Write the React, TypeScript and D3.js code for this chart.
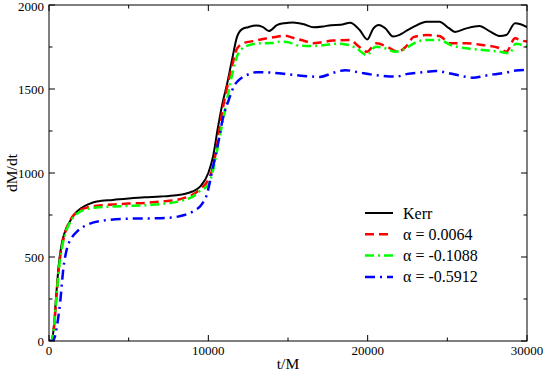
import React from "react";
import * as d3 from "d3";

const W = 545;
const H = 372;

const kerrT = [0,150,300,450,600,800,1000,1300,1600,2000,2500,3000,4000,5000,6000,7000,8000,8500,9000,9500,10000,10300,10600,10900,11200,11500,11800,12100,12500,13000,13400,13800,14300,14800,15300,16000,16600,17200,17700,18300,18900,19500,19980,20350,20700,21100,21600,22000,22450,22900,23700,24500,25100,25480,26200,27000,27700,28300,28700,29250,29600,30000];
const kerrV = [0,0,80,270,440,580,650,710,755,790,815,830,840,848,855,860,868,875,890,920,1000,1100,1270,1420,1540,1680,1810,1855,1868,1878,1870,1845,1880,1892,1896,1885,1867,1872,1880,1882,1895,1851,1795,1860,1881,1862,1812,1822,1847,1871,1901,1901,1862,1840,1861,1875,1841,1815,1821,1892,1885,1868];

const redT = [0,150,300,450,600,800,1000,1400,1800,2400,3000,4000,5000,6000,7000,8000,8500,9000,9500,10000,10300,10600,10900,11200,11500,11800,12200,12800,13600,14300,14800,15300,15900,16600,17200,17800,18900,19400,19950,20550,21200,21900,22400,22900,23700,24500,25200,26200,27200,28300,28700,29250,29600,30000];
const redV = [0,0,70,240,420,560,640,730,770,795,805,812,818,822,830,840,852,870,905,960,1040,1200,1380,1520,1640,1740,1772,1785,1800,1811,1818,1805,1790,1772,1780,1788,1792,1756,1722,1772,1752,1722,1752,1810,1821,1815,1772,1772,1762,1742,1722,1802,1790,1782];

const greenT = [0,150,300,450,600,800,1000,1400,1800,2400,3000,4000,5000,6000,7000,8000,8500,9000,9500,10000,10300,10700,11100,11500,11900,12500,13200,14000,14500,15100,15700,16600,17300,18200,18800,19300,19950,20500,21000,21700,22400,22900,23700,24500,25200,26200,27200,28300,28900,29300,29600,30000];
const greenV = [0,0,70,240,410,550,630,720,760,785,795,800,804,808,815,828,840,858,895,930,1018,1210,1400,1590,1715,1760,1772,1774,1782,1776,1758,1756,1762,1770,1762,1742,1702,1752,1745,1722,1742,1772,1792,1792,1762,1742,1732,1722,1712,1770,1765,1752];

const blueT = [0,200,350,500,700,900,1100,1400,1800,2400,3500,5000,6600,7700,8500,9100,9600,9900,10300,10600,10900,11300,11600,12000,12600,13000,14000,15000,16000,17000,17800,18600,19400,20300,21000,21800,22500,23300,24300,25200,26000,26600,27300,27900,28700,29300,30000];
const blueV = [0,0,20,90,230,430,540,610,655,692,718,728,730,735,750,775,815,870,1040,1170,1320,1440,1515,1560,1590,1600,1597,1588,1578,1572,1595,1612,1600,1585,1578,1574,1590,1598,1607,1592,1575,1567,1578,1587,1598,1610,1614];

const seriesNames = ["Kerr", "\u03b1 = 0.0064", "\u03b1 = -0.1088", "\u03b1 = -0.5912"];
const xMajor = [0, 10000, 20000, 30000];
const xMinor = [5000, 15000, 25000];
const yMajor = [0, 500, 1000, 1500, 2000];
const yMinor = [250, 750, 1250, 1750];

const series = [
  { name: seriesNames[0], t: kerrT, v: kerrV, color: "#000000", dash: "", width: 2 },
  { name: seriesNames[1], t: redT, v: redV, color: "#ff0000", dash: "9,5", width: 2.5 },
  { name: seriesNames[2], t: greenT, v: greenV, color: "#00ff00", dash: "9,4,2,4", width: 2.5 },
  { name: seriesNames[3], t: blueT, v: blueV, color: "#0000ff", dash: "10,5,2,5", width: 2.5 },
];

const FONT = "Tinos, 'Liberation Serif', 'Nimbus Roman', 'DejaVu Serif', serif";

export default function App() {
  const left = 49, right = 527, top = 5, bottom = 341;
  const x = d3.scaleLinear().domain([0, 30000]).range([left, right]);
  const y = d3.scaleLinear().domain([0, 2000]).range([bottom, top]);
  const line = d3
    .line<[number, number]>()
    .x((d) => x(d[0]))
    .y((d) => y(d[1]))
    .curve(d3.curveMonotoneX);
  const frameColor = "#000";
  const legendY0 = 213;
  const legendDy = 21.3;
  const ts = (size: number) => ({ fontFamily: FONT, fontSize: size + "px" });
  return (
    <svg width={W} height={H} style={{ position: "absolute", left: 0, top: 0 }}>
      <rect x={0} y={0} width={W} height={H} fill="#fff" />
      <defs>
        <clipPath id="plot">
          <rect x={left} y={top} width={right - left} height={bottom - top} />
        </clipPath>
      </defs>
      <g clipPath="url(#plot)">
        {series.map((s) => (
          <path
            key={s.name}
            d={line(s.t.map((t, i) => [t, s.v[i]] as [number, number])) || ""}
            fill="none"
            stroke={s.color}
            strokeWidth={s.width}
            strokeDasharray={s.dash || undefined}
            strokeLinejoin="round"
          />
        ))}
      </g>
      <rect x={left} y={top} width={right - left} height={bottom - top} fill="none" stroke={frameColor} strokeWidth={1} />
      {xMajor.map((t) => (
        <g key={"xM" + t}>
          <line x1={x(t)} x2={x(t)} y1={bottom} y2={bottom - 6} stroke={frameColor} />
          <line x1={x(t)} x2={x(t)} y1={top} y2={top + 6} stroke={frameColor} />
          <text x={x(t)} y={355} textAnchor="middle" style={ts(13)}>
            {t}
          </text>
        </g>
      ))}
      {xMinor.map((t) => (
        <g key={"xm" + t}>
          <line x1={x(t)} x2={x(t)} y1={bottom} y2={bottom - 3.5} stroke={frameColor} />
          <line x1={x(t)} x2={x(t)} y1={top} y2={top + 3.5} stroke={frameColor} />
        </g>
      ))}
      {yMajor.map((v) => (
        <g key={"yM" + v}>
          <line x1={left} x2={left + 6} y1={y(v)} y2={y(v)} stroke={frameColor} />
          <line x1={right} x2={right - 6} y1={y(v)} y2={y(v)} stroke={frameColor} />
          <text x={44} y={Math.max(y(v) + 4.5, 11)} textAnchor="end" style={ts(13)}>
            {v}
          </text>
        </g>
      ))}
      {yMinor.map((v) => (
        <g key={"ym" + v}>
          <line x1={left} x2={left + 3.5} y1={y(v)} y2={y(v)} stroke={frameColor} />
          <line x1={right} x2={right - 3.5} y1={y(v)} y2={y(v)} stroke={frameColor} />
        </g>
      ))}
      <text x={(left + right) / 2} y={369} textAnchor="middle" style={ts(15.5)}>
        t/M
      </text>
      <text
        transform={`translate(17,${(top + bottom) / 2}) rotate(-90)`}
        textAnchor="middle"
        style={ts(15.5)}
      >
        dM/dt
      </text>
      {series.map((s, i) => (
        <g key={"lg" + i}>
          <line
            x1={365}
            x2={393}
            y1={legendY0 + i * legendDy}
            y2={legendY0 + i * legendDy}
            stroke={s.color}
            strokeWidth={s.width}
            strokeDasharray={s.dash || undefined}
          />
          <text x={403} y={legendY0 + i * legendDy + 5.5} style={ts(16)}>
            {s.name}
          </text>
        </g>
      ))}
    </svg>
  );
}
